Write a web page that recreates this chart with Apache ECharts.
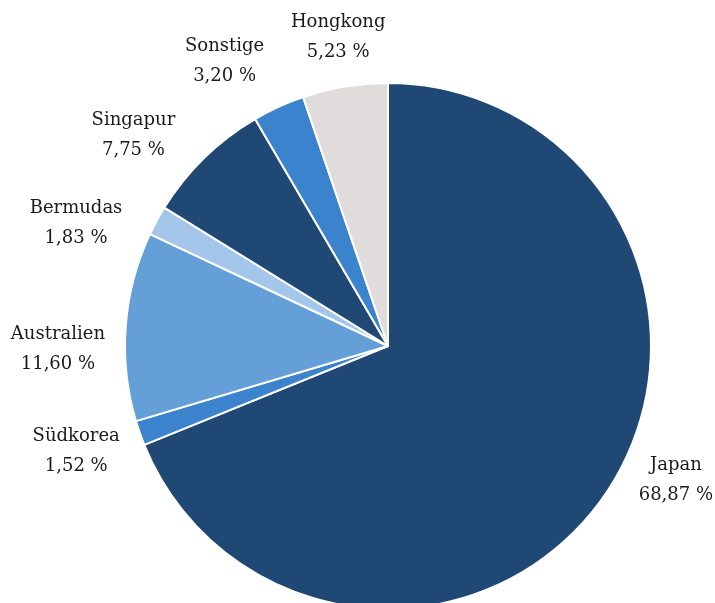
<!DOCTYPE html>
<html>
<head>
<meta charset="utf-8">
<script src="https://cdn.jsdelivr.net/npm/echarts@6/dist/echarts.min.js"></script>
<style>html,body{margin:0;padding:0;background:#fff;}#c{width:715px;height:603px;}</style>
</head>
<body>
<div id="c"></div>
<script>
const categories = ['Japan', 'Südkorea', 'Australien', 'Bermudas', 'Singapur', 'Sonstige', 'Hongkong'];
const values = [68.87, 1.52, 11.60, 1.83, 7.75, 3.20, 5.23];
const colors = ['#1F4874', '#3C83CD', '#659FD8', '#A4C6EA', '#1F4874', '#3C83CD', '#E0DCDC'];
const labelOffsets = [[20, -46], [-7, -2], [-8, 27], [-28, 31], [-29, 21], [-29, 9], [3, 10]];

const chart = echarts.init(document.getElementById('c'), null, {renderer: 'canvas'});
const center = [388, 346];
const fmt = v => v.toFixed(2).replace('.', ',') + ' %';

chart.setOption({
  animation: false,
  series: [
    {
      type: 'pie',
      center: center,
      radius: [0, 263],
      startAngle: 90,
      clockwise: true,
      silent: true,
      label: {show: false},
      labelLine: {show: false},
      itemStyle: {borderColor: '#fff', borderWidth: 2},
      data: categories.map((n, i) => ({name: n, value: values[i], itemStyle: {color: colors[i]}}))
    },
    {
      type: 'pie',
      center: center,
      radius: [300, 340],
      startAngle: 90,
      clockwise: true,
      silent: true,
      itemStyle: {color: 'rgba(0,0,0,0)', borderWidth: 0},
      labelLine: {show: false},
      label: {
        show: true,
        position: 'inside',
        formatter: p => p.name + '\n' + fmt(p.value),
        fontFamily: 'DejaVu Serif',
        fontSize: 18,
        lineHeight: 30,
        color: '#1a1a1a',
        align: 'center'
      },
      data: categories.map((n, i) => ({name: n, value: values[i], label: {offset: labelOffsets[i]}}))
    }
  ]
});
</script>
</body>
</html>
